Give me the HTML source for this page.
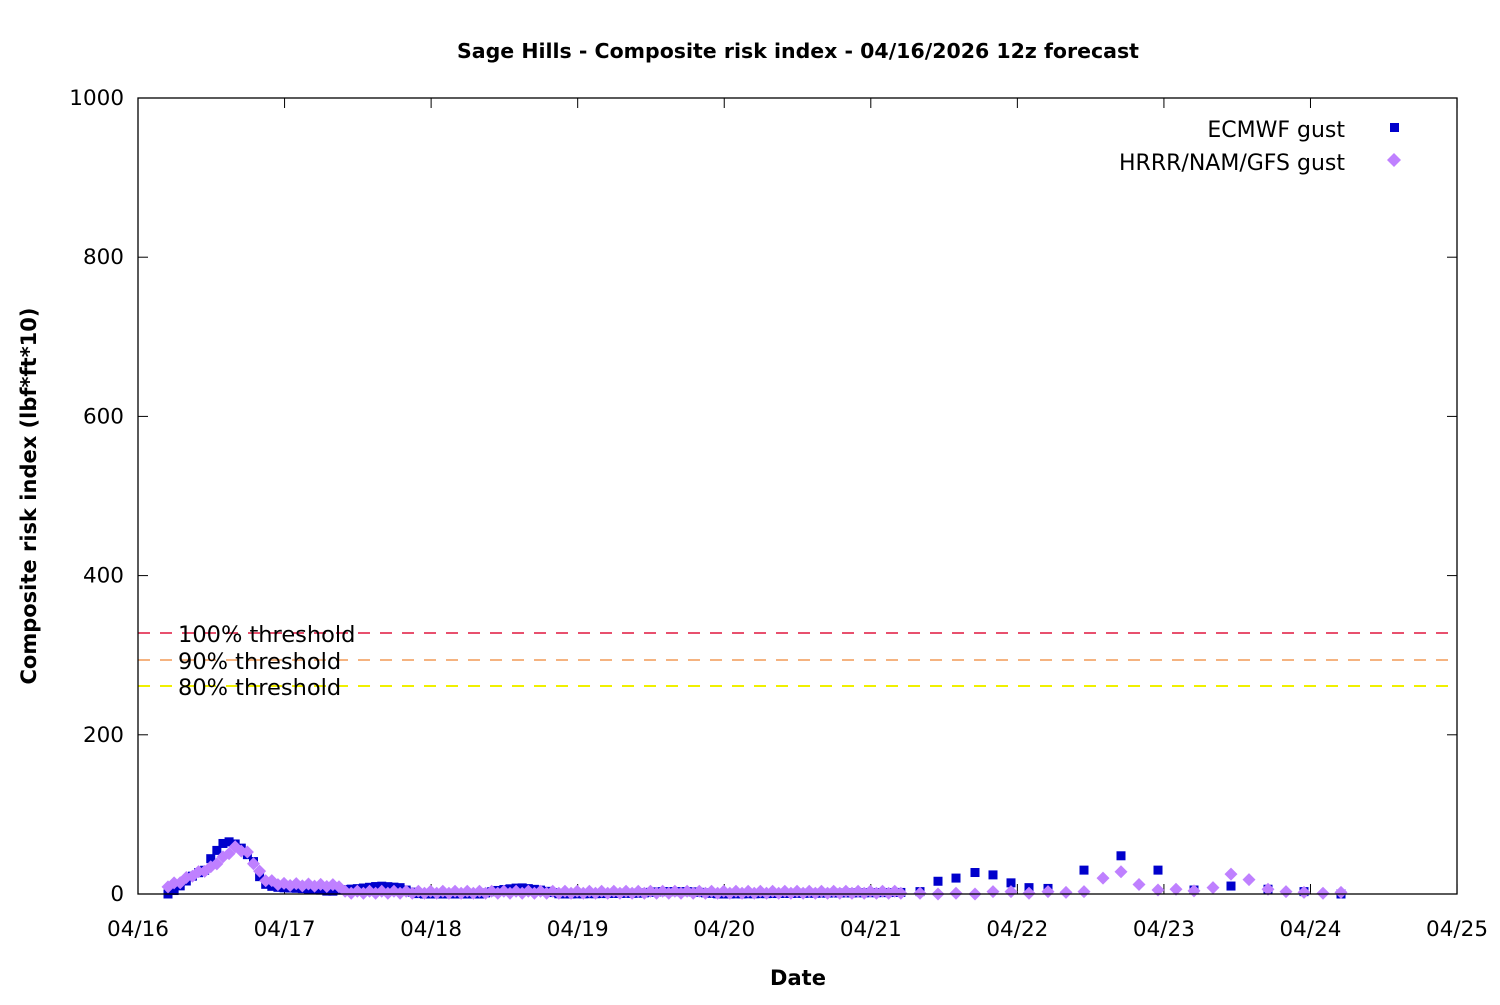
<!DOCTYPE html>
<html><head><meta charset="utf-8"><style>
html,body{margin:0;padding:0;background:#fff;}
svg text{font-family:"DejaVu Sans","Liberation Sans",sans-serif;}
</style></head><body>
<svg id="s" width="1500" height="1000" xmlns="http://www.w3.org/2000/svg">
<rect width="1500" height="1000" fill="#fff"/>
<text x="798" y="58" text-anchor="middle" font-size="20.5" font-weight="bold">Sage Hills - Composite risk index - 04/16/2026 12z forecast</text>
<text x="798" y="985" text-anchor="middle" font-size="21" font-weight="bold">Date</text>
<text transform="translate(36,496) rotate(-90)" text-anchor="middle" font-size="21" font-weight="bold">Composite risk index (lbf*ft*10)</text>
<g id="ax" font-size="21.5"></g>
<g id="th"></g>
<g id="pts"></g>
<rect x="138" y="98" width="1319" height="796" fill="none" stroke="#000" stroke-width="1.3"/>
<text x="1345" y="137" text-anchor="end" font-size="22">ECMWF gust</text>
<rect x="1390" y="123" width="9" height="9" fill="#0000cc"/>
<text x="1345" y="170" text-anchor="end" font-size="22">HRRR/NAM/GFS gust</text>
<polygon points="1394,153 1401,160 1394,167 1387,160" fill="#bf80ff"/>
</svg>
<script>
const ns="http://www.w3.org/2000/svg";
function el(t,a,p,txt){const e=document.createElementNS(ns,t);for(const k in a)e.setAttribute(k,a[k]);if(txt)e.textContent=txt;document.getElementById(p).appendChild(e);}
const Y=v=>894-v*0.796;
for(let i=0;i<=5;i++){const v=i*200,y=Y(v);el('text',{x:124,y:y+7,'text-anchor':'end'},'ax',String(v));
el('line',{x1:138,x2:148,y1:y,y2:y,stroke:'#000'},'ax');el('line',{x1:1447,x2:1457,y1:y,y2:y,stroke:'#000'},'ax');}
for(let d=0;d<=9;d++){const x=138+d*146.56;el('text',{x:x,y:936,'text-anchor':'middle'},'ax','04/'+(16+d));
el('line',{x1:x,x2:x,y1:894,y2:884,stroke:'#000'},'ax');el('line',{x1:x,x2:x,y1:98,y2:108,stroke:'#000'},'ax');}
[[633,'#e8506e','100% threshold'],[660,'#f5b380','90% threshold'],[686,'#f0f000','80% threshold']].forEach(t=>{
el('line',{x1:138,x2:1457,y1:t[0],y2:t[0],stroke:t[1],'stroke-width':2,'stroke-dasharray':'12,10'},'th');
el('text',{x:178,y:t[0]+9,'font-size':22.5},'th',t[2]);});
function interp(pts,x){for(let i=0;i<pts.length-1;i++){if(x>=pts[i][0]&&x<=pts[i+1][0]){const f=(x-pts[i][0])/(pts[i+1][0]-pts[i][0]);return pts[i][1]+f*(pts[i+1][1]-pts[i][1]);}}return pts[pts.length-1][1];}
const E=[[168,0],[175,5],[180,10],[188,18],[195,25],[205,30],[211,45],[217,55],[222,63],[228,66],[235,63],[241,58],[247,50],[254,40],[258,25],[264,13],[270,10],[280,8],[300,7],[320,5],[330,3],[340,5],[360,7],[380,10],[400,8],[410,3],[420,0],[480,0],[500,5],[520,8],[540,5],[560,0],[640,1],[660,3],[690,3],[720,0],[905,2]];
const H=[[168,10],[180,15],[195,25],[210,32],[220,42],[235,58],[247,52],[258,30],[265,18],[280,12],[340,10],[345,2],[905,2]];
const pE=[],pH=[];
for(let x=168;x<=905;x+=6.107){pE.push([x,interp(E,x)]);pH.push([x,interp(H,x)+((Math.round((x-168)/6.107)%2)?1.5:-1)]);}
[[920,3],[938,16],[956,20],[975,27],[993,24],[1011,14],[1029,8],[1048,7],[1084,30],[1121,48],[1158,30],[1194,5],[1231,10],[1268,6],[1304,3],[1341,0]].forEach(p=>pE.push(p));
[[920,1],[938,0],[956,1],[975,0],[993,3],[1011,3],[1029,1],[1048,3],[1066,2],[1084,3],[1103,20],[1121,28],[1139,12],[1158,5],[1176,6],[1194,4],[1213,8],[1231,25],[1249,18],[1268,6],[1286,3],[1304,2],[1323,1],[1341,2]].forEach(p=>pH.push(p));
pE.forEach(p=>el('rect',{x:p[0]-4.5,y:Y(p[1])-4.5,width:9,height:9,fill:'#0000cc'},'pts'));
pH.forEach(p=>{const x=p[0],y=Y(p[1]);el('polygon',{points:`${x},${y-6.5} ${x+6.5},${y} ${x},${y+6.5} ${x-6.5},${y}`,fill:'#bf80ff'},'pts');});
</script>
</body></html>
